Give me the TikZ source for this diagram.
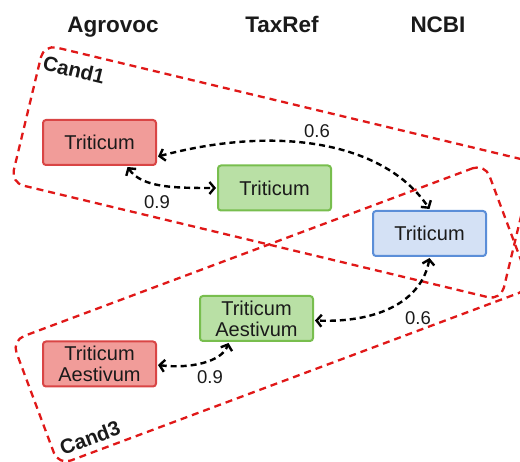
\documentclass[tikz,border=0pt]{standalone}
\usepackage{fontspec}
\setmainfont{Liberation Sans}
\usetikzlibrary{arrows.meta}
\definecolor{redfill}{HTML}{F19C99}
\definecolor{redline}{HTML}{D94545}
\definecolor{greenfill}{HTML}{B9E0A5}
\definecolor{greenline}{HTML}{78BE4E}
\definecolor{bluefill}{HTML}{D4E1F5}
\definecolor{blueline}{HTML}{5B8ED8}
\definecolor{candred}{HTML}{E01818}
\definecolor{txt}{HTML}{1A1A1A}
\tikzset{
  concept/.style={draw, line width=2pt, rounded corners=3pt, minimum width=113pt, minimum height=45pt,
    inner sep=0pt, align=center, text=txt, font=\fontsize{20}{21}\selectfont},
  agro/.style={concept, fill=redfill, draw=redline},
  taxr/.style={concept, fill=greenfill, draw=greenline},
  ncbi/.style={concept, fill=bluefill, draw=blueline},
  cand/.style={draw=candred, line width=2.3pt, dash pattern=on 7pt off 5pt, rounded corners=13pt, inner sep=0pt},
  candlabel/.style={font=\bfseries\fontsize{20.5}{22}\selectfont, text=txt, inner sep=0pt},
  header/.style={font=\bfseries\fontsize{22.5}{24}\selectfont, text=txt, anchor=base, inner sep=0pt},
  match/.style={line width=2.4pt, dash pattern=on 6pt off 4pt, black, {Straight Barb[length=5pt,width=12pt]}-{Straight Barb[length=5pt,width=12pt]}},
  score/.style={font=\fontsize{18.5}{20}\selectfont, text=txt, inner sep=0pt}
}
\begin{document}
\begin{tikzpicture}[x=1pt,y=-1pt]
\useasboundingbox (0,0) rectangle (520,462);
\clip (0,0) rectangle (520,462);
% candidate groups
\node[cand, rotate=-13.5, minimum width=504pt, minimum height=142pt] (c1) at (272.4,172.4) {};
\node[cand, rotate=20.5, minimum width=505pt, minimum height=133pt] (c3) at (271.7,314.4) {};
\node[candlabel, rotate=-13.5] (c1l) at (74,70) {Cand1};
\node[candlabel, rotate=20.5] (c3l) at (90,438) {Cand3};
% headers
\node[header] (h1) at (113,33) {Agrovoc};
\node[header] (h2) at (282,33) {TaxRef};
\node[header] (h3) at (438,33) {NCBI};
% concepts
\node[agro] (a1) at (99.5,142.5) {Triticum};
\node[taxr] (t1) at (274.5,188) {Triticum};
\node[ncbi] (n1) at (429.5,233.5) {Triticum};
\node[taxr] (t2) at (256.5,318.5) {Triticum\\Aestivum};
\node[agro] (a2) at (99.5,364) {Triticum\\Aestivum};
% matches
\draw[match] ([xshift=1pt,yshift=-14pt]a1.east) .. controls (280,124) and (385,143) .. ([yshift=1pt]n1.north);
\draw[match] ([xshift=28pt,yshift=-1pt]a1.south) .. controls (142,188) and (175,188) .. ([xshift=-1pt]t1.west);
\draw[match] ([yshift=-1pt]n1.south) .. controls (422,300) and (380,323) .. ([xshift=1pt,yshift=-2pt]t2.east);
\draw[match] ([xshift=1pt,yshift=-1pt]a2.east) .. controls (190,369) and (222,362) .. ([xshift=-28pt,yshift=-1pt]t2.south);
% scores
\node[score] (s1) at (317,131) {0.6};
\node[score] (s2) at (157,202) {0.9};
\node[score] (s3) at (418,318) {0.6};
\node[score] (s4) at (210,377) {0.9};
\end{tikzpicture}
\end{document}
